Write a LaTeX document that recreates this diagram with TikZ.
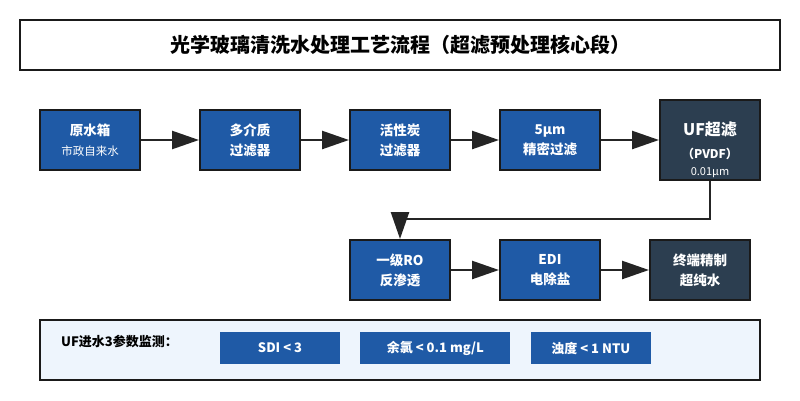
\documentclass[tikz,border=0pt]{standalone}
\usepackage{fontspec}
\setmainfont{Noto Sans CJK SC}
\usetikzlibrary{arrows.meta,positioning}
\definecolor{procblue}{HTML}{1F5AA6}
\definecolor{darknavy}{HTML}{2C3E50}
\definecolor{edgeblack}{HTML}{1A1A1A}
\definecolor{panelbg}{HTML}{EEF5FD}
\tikzset{
  stage/.style={draw=edgeblack, line width=2pt, fill=procblue, text=white, minimum width=100pt, minimum height=60pt, inner sep=0pt, align=center, font=\bfseries\fontsize{13.5}{20}\selectfont},
  final/.style={stage, fill=darknavy},
  param/.style={fill=procblue, text=white, minimum height=32pt, inner sep=0pt, font=\bfseries\fontsize{13}{15}\selectfont},
  flow/.style={-{Triangle[length=27pt,width=18pt]}, line width=2.5pt, draw=edgeblack!95}
}

\begin{document}
\begin{tikzpicture}
  \useasboundingbox (0,0) rectangle (800pt,-400pt);

  \node[draw=edgeblack, line width=2.5pt, minimum width=760pt, minimum height=50pt, font=\bfseries\fontsize{20}{22}\selectfont] (title) at (400pt,-45pt) {光学玻璃清洗水处理工艺流程（超滤预处理核心段）};

  \node[stage] (tank) at (90pt,-140pt) {原水箱\\{\mdseries\fontsize{11.5}{14}\selectfont 市政自来水}};
  \node[stage, right=58pt of tank] (mmf) {多介质\\过滤器};
  \node[stage, right=48pt of mmf] (acf) {活性炭\\过滤器};
  \node[stage, right=48pt of acf] (pf) {5μm\\精密过滤};
  \node[final, right=58pt of pf, minimum height=80pt] (uf) {\rule{0pt}{33pt}{\fontsize{16}{18}\selectfont UF超滤}\\[3pt]{\fontsize{12}{14}\selectfont （PVDF）}\\[-3pt]{\mdseries\fontsize{11}{13}\selectfont 0.01μm}};

  \node[stage, below=68pt of acf] (ro) {一级RO\\反渗透};
  \node[stage, right=48pt of ro] (edi) {EDI\\电除盐};
  \node[final, right=48pt of edi] (pure) {终端精制\\超纯水};

  \draw[flow] (tank) -- (mmf);
  \draw[flow] (mmf) -- (acf);
  \draw[flow] (acf) -- (pf);
  \draw[flow] (pf) -- (uf);
  \draw[flow] (uf.south) -- ++(0,-38pt) -| (ro.north);
  \draw[flow] (ro) -- (edi);
  \draw[flow] (edi) -- (pure);

  % monitoring panel
  \node[draw=edgeblack, line width=2pt, fill=panelbg, minimum width=720pt, minimum height=60pt] (panel) at (400pt,-350pt) {};
  \node[anchor=west, inner sep=0pt, font=\bfseries\fontsize{13}{15}\selectfont] (monitor) at (61pt,-341pt) {UF进水3参数监测：};
  \node[param, minimum width=120pt] (sdi) at (280pt,-348pt) {SDI < 3};
  \node[param, minimum width=150pt, right=20pt of sdi] (chlor) {余氯 < 0.1 mg/L};
  \node[param, minimum width=120pt, right=20pt of chlor] (turb) {浊度 < 1 NTU};
\end{tikzpicture}
\end{document}
